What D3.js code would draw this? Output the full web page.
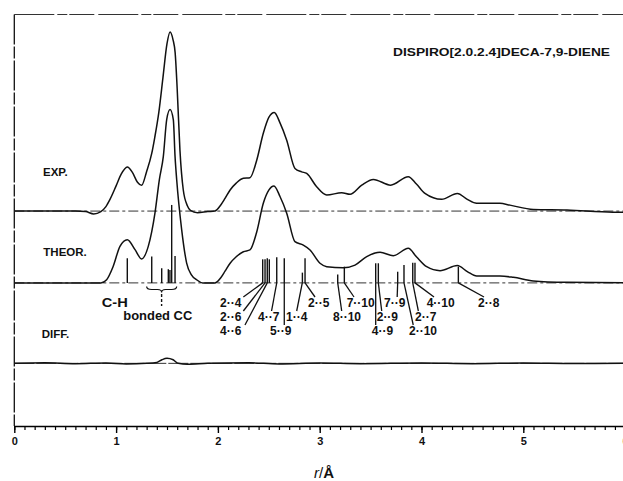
<!DOCTYPE html>
<html>
<head>
<meta charset="utf-8">
<script src="https://cdn.jsdelivr.net/npm/d3@7"></script>
<style>
  body { margin: 0; background: #fff; }
  text { font-family: "Liberation Sans", Arial, sans-serif; font-weight: bold; fill: #111; }
</style>
</head>
<body>
<div id="chart"></div>
<script>
// radial distribution curves, r in Angstrom, values in arbitrary units
var expR = [0, 0.3, 0.6, 0.7, 0.78, 0.85, 0.9, 0.94, 1.0, 1.05, 1.11, 1.16, 1.21, 1.25, 1.3, 1.35, 1.38, 1.42, 1.46, 1.5, 1.53, 1.56, 1.58, 1.6, 1.627, 1.66, 1.7, 1.73, 1.8, 1.9, 1.97, 2.03, 2.07, 2.12, 2.18, 2.25, 2.315, 2.38, 2.446, 2.5, 2.554, 2.61, 2.676, 2.757, 2.823, 2.872, 2.97, 3.069, 3.216, 3.298, 3.413, 3.527, 3.697, 3.87, 3.95, 4.034, 4.198, 4.352, 4.45, 4.542, 4.771, 4.869, 5.098, 5.43, 5.88, 6.0]
var expV = [0, 0, 0, -0.3, -1.6, -0.3, 2.5, 6.5, 14, 20.5, 24.5, 21.5, 16, 14.3, 22, 32, 41, 55, 74, 93, 99.5, 95, 88, 68, 34, 11.7, 3, 0.4, -0.9, -0.3, 0, 3.5, 7, 11.7, 15.5, 18.2, 18.5, 28, 43.2, 52, 54.8, 49, 39.4, 23.7, 21.8, 20.9, 13.5, 8.9, 10.2, 9.3, 14.4, 17.6, 14.4, 19.1, 15, 9.8, 6.5, 9.8, 6.5, 4.3, 4.3, 3.3, 0.9, 0.6, -0.6, -0.6]

var theorR = [0, 0.6, 0.85, 0.907, 0.97, 1.038, 1.11, 1.186, 1.25, 1.316, 1.382, 1.425, 1.464, 1.497, 1.53, 1.562, 1.579, 1.595, 1.644, 1.693, 1.74, 1.79, 1.85, 1.97, 2.03, 2.07, 2.12, 2.18, 2.25, 2.315, 2.38, 2.446, 2.5, 2.551, 2.61, 2.676, 2.757, 2.839, 2.905, 3.003, 3.069, 3.232, 3.347, 3.462, 3.593, 3.723, 3.87, 3.95, 4.051, 4.182, 4.352, 4.45, 4.542, 4.771, 4.902, 5.098, 5.43, 6.0]
var theorV = [0, 0, 0, 1.8, 9, 20.3, 24, 18.5, 13.3, 20.3, 38.9, 57.4, 70.3, 90.7, 96.3, 90.7, 70.3, 57.4, 29.6, 11, 4.5, 1.8, 0, 0, 3, 6.5, 10.9, 14.5, 17.3, 18.3, 28, 44.2, 51.5, 53.8, 48, 38.7, 22.9, 21, 18.3, 10.9, 9, 8.4, 9.9, 14.6, 17, 15.1, 19.2, 14.5, 9, 6.8, 9.6, 6.3, 3.8, 3.8, 3.1, 1.1, 0.3, 0]

var diffR = [0, 0.3, 0.6, 0.9, 1.1, 1.3, 1.4, 1.45, 1.5, 1.56, 1.61, 1.7, 1.9, 2.3, 2.6, 3.0, 3.4, 4.0, 4.5, 5.0, 5.5, 6.0]
var diffV = [0, 0.3, -0.2, 0.2, -0.3, 0, 0.5, 2, 2.8, 2, 0, -0.5, 0, 0.3, -0.3, 0.2, -0.2, 0.2, -0.2, 0.2, -0.1, 0]

// vertical offsets of the three curves
var offsets = {exp: 119.4, theor: 79.5, diff: 34.8}

// distance sticks under the theoretical curve
var stickR = [1.11, 1.35, 1.448, 1.513, 1.529, 1.546, 1.579, 2.44, 2.463, 2.485, 2.505, 2.578, 2.652, 2.83, 2.856, 3.177, 3.242, 3.55, 3.576, 3.766, 3.828, 3.914, 3.936, 4.362]
var stickV = [13.7, 14.6, 8.1, 7.6, 7.2, 43.3, 14.9, 13.1, 13.1, 13.7, 13.1, 14.2, 13.7, 5.7, 13.7, 4.7, 9.0, 10.9, 10.9, 6.2, 9.9, 11.2, 11.2, 9.0]

// distance labels: text, text left (r), row, stick r, leader end r
var labText = ["2\u00b7\u00b74", "2\u00b7\u00b76", "4\u00b7\u00b76", "4\u00b7\u00b77", "5\u00b7\u00b79", "1\u00b7\u00b74", "2\u00b7\u00b75", "8\u00b7\u00b710", "7\u00b7\u00b710", "4\u00b7\u00b79", "2\u00b7\u00b79", "7\u00b7\u00b79", "2\u00b7\u00b710", "2\u00b7\u00b77", "4\u00b7\u00b710", "2\u00b7\u00b78"]
var labLeft = [2.021, 2.021, 2.021, 2.394, 2.512, 2.669, 2.885, 3.131, 3.265, 3.511, 3.56, 3.632, 3.877, 3.936, 4.051, 4.555]
var labRow = [1, 2, 3, 2, 3, 2, 1, 2, 1, 3, 2, 1, 3, 2, 1, 1]
var labStick = [2.44, 2.463, 2.485, 2.578, 2.652, 2.829, 2.856, 3.177, 3.242, 3.55, 3.576, 3.766, 3.828, 3.914, 3.936, 4.362]
var labEnd = [2.25, 2.25, 2.266, 2.527, 2.652, 2.774, 2.954, 3.216, 3.337, 3.55, 3.609, 3.761, 3.919, 3.969, 4.123, 4.614]

var xTicks = [0, 1, 2, 3, 4, 5, 6]

var W = 623, H = 481

var svg = d3.select("#chart").append("svg")
    .attr("width", W)
    .attr("height", H)

var x = d3.scaleLinear().domain([0, 6]).range([14.3, 625.1])
var y = d3.scaleLinear().domain([0, 228.6]).range([426, 14.5])
var rowY = d3.scaleLinear().domain([1, 3]).range([307, 335])

// frame: top and left
svg.append("line")
    .attr("x1", x(0)).attr("x2", W)
    .attr("y1", y(228.6)).attr("y2", y(228.6))
    .attr("stroke", "#333").attr("stroke-width", 1)
    .attr("stroke-dasharray", "40,3,10,2,25,4")
svg.append("line")
    .attr("x1", x(0)).attr("x2", x(0))
    .attr("y1", y(228.6)).attr("y2", y(0))
    .attr("stroke", "#111").attr("stroke-width", 1.3)
    .attr("stroke-dasharray", "30,2,12,2")

// baselines
Object.keys(offsets).forEach(function(k) {
  svg.append("line")
    .attr("x1", x(0)).attr("x2", W)
    .attr("y1", y(offsets[k])).attr("y2", y(offsets[k]))
    .attr("stroke", "#333").attr("stroke-width", 1)
    .attr("stroke-dasharray", k == "diff" ? "20,2" : "10,3,3,3")
})

// curves
var line = d3.line().curve(d3.curveMonotoneX)
function drawCurve(rs, vs, off) {
  var pts = rs.map(function(r, i) { return [x(r), y(off + vs[i])] })
  svg.append("path")
    .attr("d", line(pts))
    .attr("fill", "none")
    .attr("stroke", "#111")
    .attr("stroke-width", 1.5)
}
drawCurve(expR, expV, offsets.exp)
drawCurve(theorR, theorV, offsets.theor)
drawCurve(diffR, diffV, offsets.diff)

// sticks
svg.selectAll(".stick")
  .data(stickR)
  .enter()
  .append("line")
    .attr("class", "stick")
    .attr("x1", d => x(d)).attr("x2", d => x(d))
    .attr("y1", y(offsets.theor))
    .attr("y2", (d, i) => y(offsets.theor + stickV[i]))
    .attr("stroke", "#111").attr("stroke-width", 1.4)

// leader lines and labels
svg.selectAll(".leader")
  .data(labText)
  .enter()
  .append("line")
    .attr("class", "leader")
    .attr("x1", (d, i) => x(labStick[i]))
    .attr("y1", y(offsets.theor))
    .attr("x2", (d, i) => x(labEnd[i]))
    .attr("y2", (d, i) => rowY(labRow[i]) - 10)
    .attr("stroke", "#111").attr("stroke-width", 1.3)

svg.selectAll(".lab")
  .data(labText)
  .enter()
  .append("text")
    .attr("class", "lab")
    .attr("x", (d, i) => x(labLeft[i]))
    .attr("y", (d, i) => rowY(labRow[i]))
    .style("font-size", "12px")
    .text(d => d)

// C-H and bonded CC
svg.append("text")
    .attr("x", x(0.859)).attr("y", rowY(1))
    .attr("textLength", 26).attr("lengthAdjust", "spacingAndGlyphs")
    .style("font-size", "12px")
    .text("C-H")
var bx1 = x(1.3), bx2 = x(1.595), bxc = x(1.447)
svg.append("path")
    .attr("d", "M" + bx1 + ",286.5 Q" + bx1 + ",289.5 " + (bx1 + 5) + ",289.5 L" + (bxc - 4) + ",289.5 Q" + bxc + ",289.5 " + bxc + ",292.5 Q" + bxc + ",289.5 " + (bxc + 4) + ",289.5 L" + (bx2 - 5) + ",289.5 Q" + bx2 + ",289.5 " + bx2 + ",286.5")
    .attr("fill", "none").attr("stroke", "#111").attr("stroke-width", 1.2)
svg.append("line")
    .attr("x1", bxc).attr("x2", bxc)
    .attr("y1", 294).attr("y2", 306)
    .attr("stroke", "#111").attr("stroke-width", 1.4)
    .attr("stroke-dasharray", "3,2")
svg.append("text")
    .attr("x", x(1.071)).attr("y", rowY(2) - 1)
    .attr("textLength", 69).attr("lengthAdjust", "spacingAndGlyphs")
    .style("font-size", "12px")
    .text("bonded CC")

// curve names
svg.append("text").attr("x", 43).attr("y", 175.5).style("font-size", "11.5px").text("EXP.")
svg.append("text").attr("x", 43.3).attr("y", 255.7).style("font-size", "11.5px").text("THEOR.")
svg.append("text").attr("x", 41.7).attr("y", 337.5).style("font-size", "11.5px").text("DIFF.")

// title
svg.append("text")
    .attr("x", 393).attr("y", 55.5)
    .attr("textLength", 217).attr("lengthAdjust", "spacingAndGlyphs")
    .style("font-size", "11px")
    .text("DISPIRO[2.0.2.4]DECA-7,9-DIENE")

// x axis: minor and major ticks
var minor = svg.append("g")
    .attr("transform", "translate(0," + y(0) + ")")
    .call(d3.axisBottom(x).tickValues(d3.range(0, 61).map(d => d / 10)).tickSize(4).tickSizeOuter(0).tickFormat(""))
minor.select(".domain").attr("stroke-width", 1.6)
minor.selectAll(".tick line").attr("stroke-width", 1.2)

var major = svg.append("g")
    .attr("transform", "translate(0," + y(0) + ")")
    .call(d3.axisBottom(x).tickValues(xTicks).tickSize(7).tickSizeOuter(0).tickPadding(4).tickFormat(d3.format("d")))
major.select(".domain").remove()
major.selectAll(".tick line").attr("stroke-width", 1.4)
major.selectAll(".tick text")
    .style("font-family", "'Liberation Sans', Arial, sans-serif")
    .style("font-weight", "bold")
    .style("font-size", "11px")
    .attr("fill", "#111")

// axis title
var t = svg.append("text")
    .attr("x", 324).attr("y", 478)
    .attr("text-anchor", "middle")
    .style("font-size", "15px")
t.append("tspan").style("font-style", "italic").style("font-weight", "normal").text("r")
t.append("tspan").style("font-weight", "normal").text("/")
t.append("tspan").text("\u00c5")
</script>
</body>
</html>
